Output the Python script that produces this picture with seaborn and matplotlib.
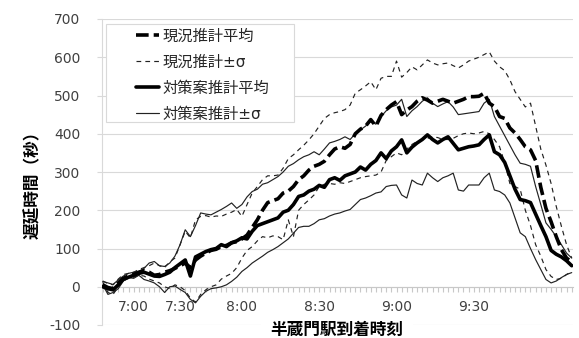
import matplotlib
matplotlib.use("Agg")
import matplotlib.pyplot as plt
import numpy as np
import pandas as pd
import seaborn as sns
from matplotlib.lines import Line2D
from matplotlib.patches import Rectangle

# 半蔵門駅に到着する列車の順番（横軸はカテゴリ軸）
train_no = list(range(92))
tick_pos = [6, 15, 27, 42, 57, 72]
tick_labels = ["7:00", "7:30", "8:00", "8:30", "9:00", "9:30"]

# 遅延時間（秒）
cur_mean = [5, -2, -5, 10, 22, 28, 32, 38, 42, 38,
            30, 32, 38, 42, 48, 55, 62, 50, 70, 80,
            88, 95, 98, 105, 108, 115, 118, 125, 135, 155,
            175, 200, 220, 225, 230, 245, 250, 262, 280, 290,
            305, 315, 320, 328, 345, 360, 366, 362, 372, 400,
            412, 420, 437, 420, 448, 463, 475, 484, 450, 462,
            471, 485, 494, 488, 480, 485, 490, 485, 480, 485,
            490, 497, 497, 498, 506, 480, 471, 445, 440, 415,
            402, 385, 366, 358, 330, 260, 205, 170, 131, 97,
            75, 65]
cur_plus = [15, 8, 5, 20, 32, 35, 38, 45, 50, 55,
            62, 55, 50, 65, 75, 110, 145, 128, 175, 184,
            186, 182, 185, 184, 190, 195, 202, 184, 215, 245,
            262, 280, 290, 290, 292, 310, 335, 345, 358, 370,
            384, 400, 420, 440, 450, 455, 458, 463, 475, 506,
            515, 525, 536, 515, 545, 550, 550, 590, 548, 560,
            575, 567, 580, 593, 585, 580, 583, 585, 578, 572,
            580, 590, 595, 600, 607, 614, 590, 575, 565, 541,
            510, 490, 470, 480, 420, 360, 318, 270, 210, 158,
            110, 75]
cur_minus = [12, -15, -20, 0, 15, 22, 25, 30, 28, 20,
             15, 10, 0, -5, 5, 0, -10, -30, -40, -20,
             -8, 0, 5, 20, 28, 35, 50, 75, 95, 105,
             120, 131, 128, 133, 131, 123, 175, 131, 200, 215,
             227, 240, 262, 268, 270, 268, 272, 270, 275, 280,
             285, 288, 290, 292, 300, 330, 340, 350, 345, 360,
             372, 380, 385, 388, 392, 390, 385, 385, 388, 395,
             400, 402, 400, 402, 406, 400, 385, 366, 324, 270,
             262, 255, 200, 160, 110, 80, 45, 27, 19, 22,
             32, 40]
plan_mean = [0, -5, -8, 5, 20, 25, 30, 35, 38, 33,
             28, 27, 32, 38, 50, 60, 70, 28, 78, 85,
             92, 97, 100, 110, 105, 115, 120, 128, 125, 145,
             160, 165, 170, 175, 180, 195, 200, 215, 236, 240,
             250, 255, 265, 260, 280, 285, 278, 290, 295, 300,
             313, 305, 320, 330, 350, 335, 355, 366, 384, 350,
             365, 376, 385, 397, 385, 376, 385, 392, 375, 358,
             362, 366, 368, 371, 385, 397, 353, 345, 325, 290,
             255, 228, 225, 220, 190, 160, 131, 95, 85, 78,
             68, 55]
plan_plus = [14, 10, 6, 18, 28, 35, 38, 40, 48, 62,
             66, 55, 53, 62, 80, 110, 149, 131, 160, 193,
             190, 188, 195, 202, 210, 219, 205, 215, 235, 249,
             255, 268, 272, 280, 288, 300, 315, 322, 332, 340,
             345, 353, 345, 360, 376, 380, 385, 392, 385, 400,
             410, 420, 432, 425, 445, 460, 470, 475, 490, 445,
             460, 471, 485, 494, 480, 471, 478, 484, 470, 450,
             452, 454, 456, 458, 480, 490, 445, 420, 395, 370,
             345, 323, 320, 315, 262, 215, 167, 150, 131, 110,
             88, 75]
plan_minus = [5, -20, -15, -5, 15, 24, 22, 30, 19, 15,
              10, 0, -15, 0, 2, -7, -15, -33, -42, -25,
              -12, -5, -3, 0, 5, 14, 25, 40, 50, 62,
              71, 80, 90, 97, 105, 115, 125, 140, 155, 158,
              158, 165, 175, 178, 185, 190, 193, 198, 202, 215,
              228, 232, 238, 245, 248, 262, 265, 266, 240, 232,
              279, 270, 266, 297, 285, 275, 285, 290, 297, 253,
              250, 266, 266, 266, 285, 297, 253, 249, 240, 219,
              180, 141, 131, 100, 71, 45, 19, 10, 15, 24,
              32, 37]

df = pd.DataFrame({
    "train": train_no,
    "cur_mean": cur_mean, "cur_plus": cur_plus, "cur_minus": cur_minus,
    "plan_mean": plan_mean, "plan_plus": plan_plus, "plan_minus": plan_minus,
})

sns.set_style("white")
plt.rcParams["font.family"] = ["DejaVu Sans", "Noto Sans CJK JP"]
plt.rcParams["axes.unicode_minus"] = False

W, H = 579, 338
fig = plt.figure(figsize=(W / 100, H / 100), dpi=100)
ax = fig.add_axes([102 / W, 1 - 325 / H, 471 / W, 306 / H])

thick_dash = (0, (3.5, 1.4))
thin_dash = (0, (4.0, 3.5))
styles = {
    "cur_plus": dict(color="#222222", lw=0.85, ls=thin_dash),
    "cur_minus": dict(color="#222222", lw=0.85, ls=thin_dash),
    "plan_plus": dict(color="#222222", lw=0.85, ls="-"),
    "plan_minus": dict(color="#222222", lw=0.85, ls="-"),
    "plan_mean": dict(color="black", lw=2.6, ls="-"),
    "cur_mean": dict(color="black", lw=2.6, ls=thick_dash),
}
for col, st in styles.items():
    sns.lineplot(data=df, x="train", y=col, ax=ax, color=st["color"],
                 linewidth=st["lw"], linestyle=st["ls"], legend=False,
                 zorder=3)

ax.set_xlim(-0.15, 91.25)
ax.set_ylim(-100, 700)
ax.set_yticks(range(-100, 701, 100))
ax.set_xticks(tick_pos)
ax.set_xticklabels(tick_labels)
ax.set_xticks(train_no, minor=True)
ax.set_xlabel("")
ax.set_ylabel("")

ax.set_axisbelow(True)
ax.yaxis.grid(True, color="#d9d9d9", linewidth=0.8)
ax.xaxis.grid(False)
for s in ("top", "right"):
    ax.spines[s].set_visible(False)
ax.spines["left"].set_color("#d9d9d9")
ax.spines["left"].set_linewidth(0.8)
ax.spines["bottom"].set_position(("data", 0))
ax.spines["bottom"].set_color("#c8c8c8")
ax.spines["bottom"].set_linewidth(0.8)

ax.tick_params(axis="y", which="both", direction="out", length=3.6,
               width=0.8, color="#d9d9d9", pad=12, labelsize=10,
               labelcolor="#404040", left=True)
ax.tick_params(axis="x", which="both", direction="out", length=3.6,
               width=0.8, color="#c8c8c8", pad=6, labelsize=10,
               labelcolor="#404040", bottom=True)

# 軸タイトル
fig.text(337 / W, 1 - 330 / H, "半蔵門駅到着時刻", ha="center", va="center",
         fontsize=12, fontweight="bold", color="black",
         bbox=dict(facecolor="white", edgecolor="none", pad=7))
fig.text(33 / W, 1 - 181 / H, "遅延時間（秒）", ha="center", va="center",
         rotation=90, fontsize=12, fontweight="bold", color="black")

# 凡例
handles = [
    Line2D([], [], color="black", lw=2.6, ls=thick_dash),
    Line2D([], [], color="#222222", lw=0.85, ls=thin_dash),
    Line2D([], [], color="black", lw=2.6, ls="-"),
    Line2D([], [], color="#222222", lw=0.85, ls="-"),
]
labels = ["現況推計平均", "現況推計±σ", "対策案推計平均", "対策案推計±σ"]
fig.add_artist(Rectangle((106 / W, 1 - 122 / H), 188 / W, 98 / H,
                         transform=fig.transFigure, facecolor="white",
                         edgecolor="#d9d9d9", linewidth=0.8, zorder=4))
leg = ax.legend(handles, labels, loc="upper left",
                bbox_to_anchor=(128 / W, 1 - 21 / H),
                bbox_transform=fig.transFigure, frameon=False, borderpad=0,
                handlelength=1.55, handletextpad=0.2, labelspacing=0.72,
                prop=dict(size=11))
leg.set_zorder(6)
fig.add_artist(leg)

fig.savefig("out.png", dpi=100)
